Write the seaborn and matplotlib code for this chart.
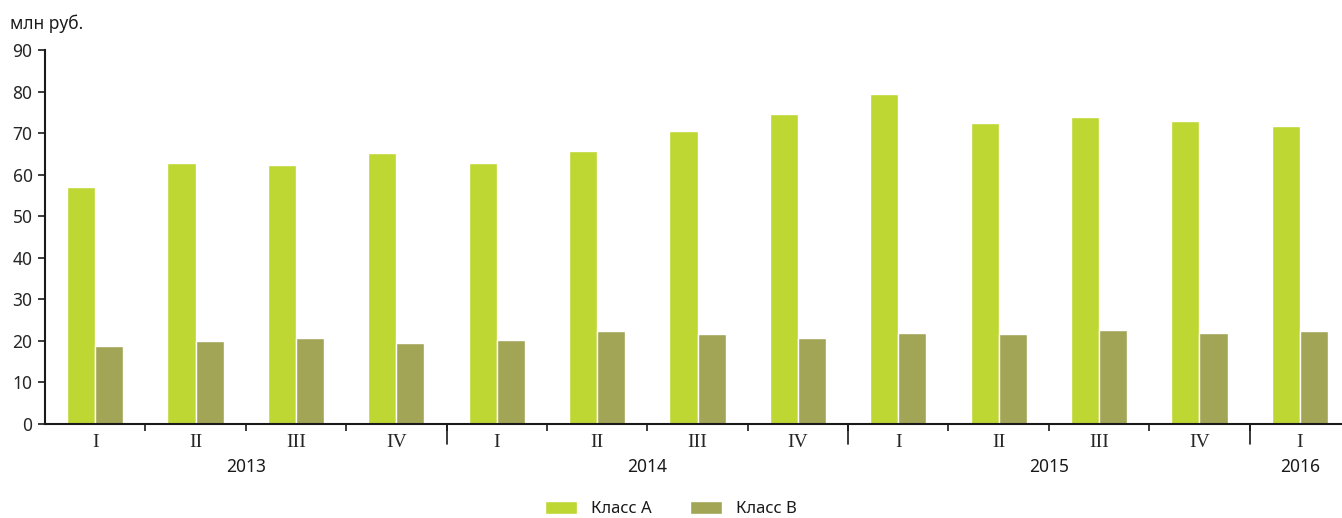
import pandas as pd
import numpy as np
import matplotlib.pyplot as plt
import matplotlib.transforms as mtransforms
import seaborn as sns

# quarters and values, млн руб.
quarters = ['I', 'II', 'III', 'IV', 'I', 'II', 'III', 'IV', 'I', 'II', 'III', 'IV', 'I']
years = ['2013', '2014', '2015', '2016']
year_len = [4, 4, 4, 1]
class_a = [57.0, 62.7, 62.3, 65.2, 62.7, 65.6, 70.6, 74.6, 79.4, 72.4, 73.9, 72.8, 71.7]
class_b = [18.8, 19.9, 20.6, 19.5, 20.2, 22.4, 21.7, 20.6, 22.0, 21.7, 22.7, 22.0, 22.4]
series = ['Класс А', 'Класс В']
colors = ['#bed733', '#a2a556']

periods = [f'{i:02d}' for i in range(len(quarters))]
df = pd.DataFrame({
    'period': periods * 2,
    'value': class_a + class_b,
    'series': [series[0]] * len(periods) + [series[1]] * len(periods),
})

sns.set_style('white')
plt.rcParams['font.family'] = ['Noto Sans', 'DejaVu Sans']
plt.rcParams['text.color'] = '#1a1a1a'

fig = plt.figure(figsize=(13.42, 5.18), dpi=100)
ax = fig.add_axes([45 / 1342, 94 / 518, 1 - 45 / 1342, 374 / 518])

sns.barplot(data=df, x='period', y='value', hue='series', palette=colors,
            saturation=1, width=0.56, edgecolor='white', linewidth=1, ax=ax)

ax.set_ylim(0, 90)
ax.set_yticks(range(0, 91, 10))
ax.set_xlim(-0.5, 12.42)
ax.set_xlabel('')
ax.set_ylabel('')

for side in ['top', 'right']:
    ax.spines[side].set_visible(False)
for side in ['left', 'bottom']:
    ax.spines[side].set_color('#1a1a1a')
    ax.spines[side].set_linewidth(1.5)

ax.tick_params(axis='y', length=5, width=1.2, color='#1a1a1a', labelsize=12.5, pad=4, left=True)
ax.set_xticks(range(len(quarters)))
ax.set_xticklabels(quarters, family=['Liberation Serif'], fontsize=14)
ax.tick_params(axis='x', length=0, pad=7)
ax.set_xticks(np.arange(0.5, len(quarters) - 0.5, 1), minor=True)
ax.tick_params(axis='x', which='minor', length=5, width=1.2, color='#1a1a1a', bottom=True)

# year separators and year labels
trans = mtransforms.blended_transform_factory(ax.transData, ax.transAxes)
start = 0
for y, n in zip(years, year_len):
    if start > 0:
        ax.plot([start - 0.5, start - 0.5], [0, -20 / 374], transform=trans,
                color='#1a1a1a', lw=1.2, clip_on=False)
    ax.text(start + (n - 1) / 2, -43 / 374, y, transform=trans,
            ha='center', va='center', fontsize=12.5)
    start += n

fig.text(10 / 1342, 1 - 24 / 518, 'млн руб.', ha='left', va='center', fontsize=12.5)

handles, labels = ax.get_legend_handles_labels()
ax.get_legend().remove()
fig.legend(handles, labels, loc='center', bbox_to_anchor=(0.5, 1 - 509 / 518),
           ncol=2, frameon=False, fontsize=12, handlelength=1.9, handleheight=0.85,
           handletextpad=0.85, columnspacing=2.3)

fig.savefig('out.png', dpi=100)
